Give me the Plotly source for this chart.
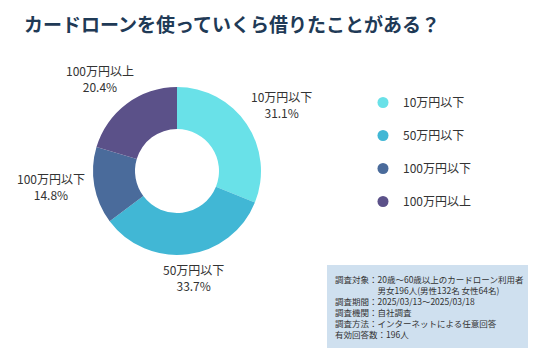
import math
import plotly.graph_objects as go

# ---- data ----
categories = ["10万円以下", "50万円以下", "100万円以下", "100万円以上"]
percentages = [31.1, 33.7, 14.8, 20.4]
colors = ["#69E1E8", "#41B7D5", "#4A6B9B", "#5B5189"]
title_text = "カードローンを使っていくら借りたことがある？"
note_lines = [
    "調査対象：20歳〜60歳以上のカードローン利用者",
    "　　　　　男女196人(男性132名 女性64名)",
    "調査期間：2025/03/13〜2025/03/18",
    "調査機関：自社調査",
    "調査方法：インターネットによる任意回答",
    "有効回答数：196人",
]

W, H = 536, 357
FONT = "Noto Sans CJK JP"
dom_x = [93 / W, 261 / W]
dom_y = [(H - 255) / H, (H - 87) / H]

fig = go.Figure()
fig.add_trace(go.Pie(
    labels=categories, values=percentages, sort=False, direction="clockwise",
    rotation=0, hole=0.5, marker=dict(colors=colors, line=dict(width=0)),
    textinfo="none", hoverinfo="label+percent", showlegend=False,
    domain=dict(x=dom_x, y=dom_y),
))

# legend entries with circular markers
for i, (c, col) in enumerate(zip(categories, colors)):
    fig.add_trace(go.Scatter(
        x=[None], y=[None], mode="markers", name=c, legendgroup=f"g{i}",
        marker=dict(size=11, color=col, symbol="circle"), showlegend=True,
    ))

# outside labels computed from the slice angles
cx = (dom_x[0] + dom_x[1]) / 2 * W
cy = H - (dom_y[0] + dom_y[1]) / 2 * H
R = (dom_x[1] - dom_x[0]) * W / 2
total = sum(percentages)
annotations = []
cum = 0.0
for c, v in zip(categories, percentages):
    mid = (cum + v / 2) / total * 2 * math.pi
    cum += v
    s, co = math.sin(mid), math.cos(mid)
    r0 = R + 10
    bw, bh = 4.6 * len(c) + 36, 34
    px = cx + r0 * s + bw / 2 * s
    py = cy - r0 * co - bh / 2 * co - 4
    annotations.append(dict(
        x=px / W, y=1 - py / H, xref="paper", yref="paper",
        text=f"{c}<br>{v:.1f}%", showarrow=False, align="center",
        xanchor="center", yanchor="middle",
        font=dict(family=FONT, size=12, color="#333333"),
    ))

annotations.append(dict(
    x=22 / W, y=1 - 24 / H, xref="paper", yref="paper", text=f"<b>{title_text}</b>",
    showarrow=False, xanchor="left", yanchor="middle",
    font=dict(family=FONT, size=19, color="#1F3A56"),
))
annotations.append(dict(
    x=333 / W, y=1 - 271 / H, xref="paper", yref="paper",
    text="<br>".join(note_lines), showarrow=False, xanchor="left", yanchor="top",
    align="left", font=dict(family=FONT, size=8.5, color="#333333"),
))

fig.update_layout(
    width=W, height=H, margin=dict(l=0, r=0, t=0, b=0),
    paper_bgcolor="white", plot_bgcolor="white",
    xaxis=dict(visible=False), yaxis=dict(visible=False),
    shapes=[dict(type="rect", xref="paper", yref="paper",
                 x0=327 / W, x1=528 / W, y0=1 - 348 / H, y1=1 - 265 / H,
                 fillcolor="#CFE0EF", line=dict(width=0), layer="below")],
    annotations=annotations,
    legend=dict(x=363 / W, y=1 - 88 / H, xanchor="left", yanchor="top",
                tracegroupgap=14, font=dict(family=FONT, size=12, color="#333333"),
                bgcolor="rgba(0,0,0,0)", itemclick=False),
    font=dict(family=FONT),
)

fig.write_html("out.html", config={"displayModeBar": False},
               post_script="document.body.style.margin='0';document.body.style.overflow='hidden';")
